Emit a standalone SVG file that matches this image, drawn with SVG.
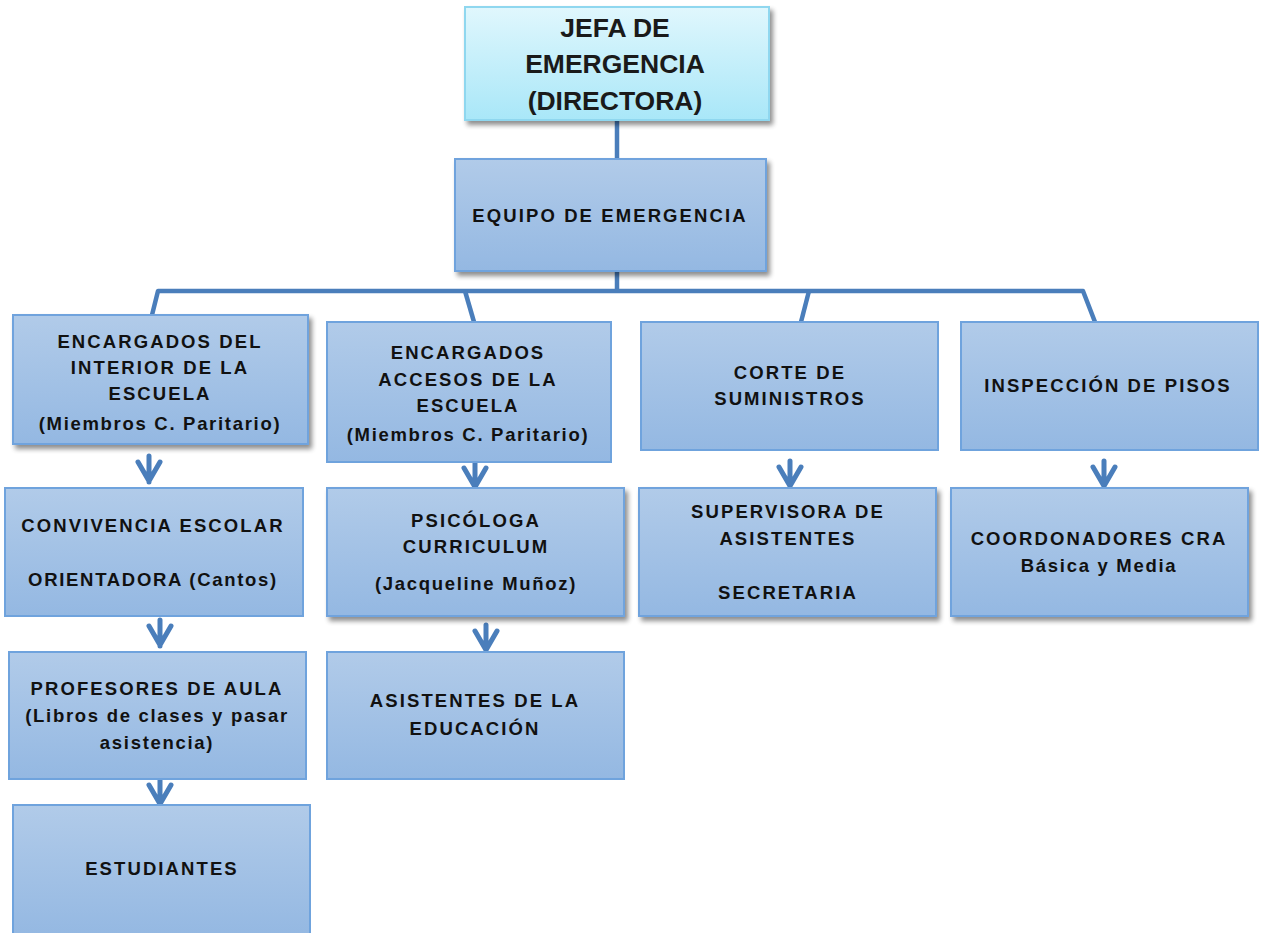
<svg xmlns="http://www.w3.org/2000/svg" width="1261" height="933" viewBox="0 0 1261 933">
<defs>
<linearGradient id="gBlue" x1="0" y1="0" x2="0" y2="1">
<stop offset="0" stop-color="#b1cbe9"/>
<stop offset="1" stop-color="#94b8e2"/>
</linearGradient>
<linearGradient id="gCyan" x1="0" y1="0" x2="0" y2="1">
<stop offset="0" stop-color="#e0f7fd"/>
<stop offset="1" stop-color="#a9e7f8"/>
</linearGradient>
<filter id="sh" x="-5%" y="-5%" width="115%" height="125%">
<feGaussianBlur in="SourceAlpha" stdDeviation="2.5"/>
<feOffset dx="3" dy="4" result="b"/>
<feComponentTransfer><feFuncA type="linear" slope="0.45"/></feComponentTransfer>
<feMerge><feMergeNode/><feMergeNode in="SourceGraphic"/></feMerge>
</filter>
<g id="arr">
<path d="M0,-13 L0,13 M-11,-7 L0,12 M11,-7 L0,12" fill="none" stroke="#4a7ebb" stroke-width="5" stroke-linecap="round" stroke-linejoin="round"/>
</g>
</defs>
<style>
.box{fill:url(#gBlue);stroke:#6fa3dd;stroke-width:2}
.top{fill:url(#gCyan);stroke:#8fd7ef;stroke-width:2}
.t{font-family:"Liberation Sans",Arial,sans-serif;font-weight:bold;font-size:18.5px;fill:#111;text-anchor:middle;letter-spacing:2.1px}
.s{font-family:"Liberation Sans",Arial,sans-serif;font-weight:bold;font-size:18.5px;fill:#111;text-anchor:middle;letter-spacing:1.7px}
.h{font-family:"Liberation Sans",Arial,sans-serif;font-weight:bold;font-size:26.5px;fill:#1a1a1a;text-anchor:middle}
.c{fill:none;stroke:#4a7ebb;stroke-width:4.5;stroke-linejoin:round}
</style>
<rect width="1261" height="933" fill="#ffffff"/>

<g id="connectors">
<path class="c" d="M617,120 L617,159"/>
<path class="c" d="M617,271 L617,291"/>
<path class="c" d="M152,315 L158,291 L1083,291 L1095,322"/>
<path class="c" d="M465,291 L474,322"/>
<path class="c" d="M809,291 L801,322"/>
<use href="#arr" x="149" y="469"/>
<use href="#arr" x="475" y="475"/>
<use href="#arr" x="790" y="474"/>
<use href="#arr" x="1104" y="474"/>
<use href="#arr" x="160" y="633"/>
<use href="#arr" x="486" y="638"/>
<use href="#arr" x="160" y="792"/>
</g>

<g id="jefa">
<rect class="top" x="465" y="7" width="304" height="113" filter="url(#sh)"/>
<text class="h" x="615" y="37">JEFA DE</text>
<text class="h" x="615" y="73">EMERGENCIA</text>
<text class="h" x="615" y="110">(DIRECTORA)</text>
</g>

<g id="equipo">
<rect class="box" x="455" y="159" width="311" height="112" filter="url(#sh)"/>
<text class="t" x="610" y="222">EQUIPO DE EMERGENCIA</text>
</g>

<g id="interior">
<rect class="box" x="13" y="315" width="295" height="129" filter="url(#sh)"/>
<text class="t" x="160" y="348">ENCARGADOS DEL</text>
<text class="t" x="160" y="374">INTERIOR DE LA</text>
<text class="t" x="160" y="400">ESCUELA</text>
<text class="s" x="160" y="430">(Miembros C. Paritario)</text>
</g>

<g id="accesos">
<rect class="box" x="327" y="322" width="284" height="140"/>
<text class="t" x="468" y="359">ENCARGADOS</text>
<text class="t" x="468" y="386">ACCESOS DE LA</text>
<text class="t" x="468" y="412">ESCUELA</text>
<text class="s" x="468" y="441">(Miembros C. Paritario)</text>
</g>

<g id="corte">
<rect class="box" x="641" y="322" width="297" height="128"/>
<text class="t" x="790" y="379">CORTE DE</text>
<text class="t" x="790" y="405">SUMINISTROS</text>
</g>

<g id="inspeccion">
<rect class="box" x="961" y="322" width="297" height="128"/>
<text class="t" x="1108" y="392">INSPECCIÓN DE PISOS</text>
</g>

<g id="convivencia">
<rect class="box" x="5" y="488" width="298" height="128"/>
<text class="t" x="153" y="532">CONVIVENCIA ESCOLAR</text>
<text class="s" x="153" y="586">ORIENTADORA (Cantos)</text>
</g>

<g id="psicologa">
<rect class="box" x="327" y="488" width="297" height="128" filter="url(#sh)"/>
<text class="t" x="476" y="527">PSICÓLOGA</text>
<text class="t" x="476" y="553">CURRICULUM</text>
<text class="s" x="476" y="590">(Jacqueline Muñoz)</text>
</g>

<g id="supervisora">
<rect class="box" x="639" y="488" width="297" height="128" filter="url(#sh)"/>
<text class="t" x="788" y="518">SUPERVISORA DE</text>
<text class="t" x="788" y="545">ASISTENTES</text>
<text class="t" x="788" y="599">SECRETARIA</text>
</g>

<g id="coordonadores">
<rect class="box" x="951" y="488" width="297" height="128" filter="url(#sh)"/>
<text class="t" x="1099" y="545">COORDONADORES CRA</text>
<text class="s" x="1099" y="572">Básica y Media</text>
</g>

<g id="profesores">
<rect class="box" x="9" y="652" width="297" height="127"/>
<text class="t" x="157" y="695">PROFESORES DE AULA</text>
<text class="s" x="157" y="722">(Libros de clases y pasar</text>
<text class="s" x="157" y="749">asistencia)</text>
</g>

<g id="asistentes">
<rect class="box" x="327" y="652" width="297" height="127"/>
<text class="t" x="475" y="707">ASISTENTES DE LA</text>
<text class="t" x="475" y="735">EDUCACIÓN</text>
</g>

<g id="estudiantes">
<rect class="box" x="13" y="805" width="297" height="132"/>
<text class="t" x="162" y="875">ESTUDIANTES</text>
</g>
</svg>
